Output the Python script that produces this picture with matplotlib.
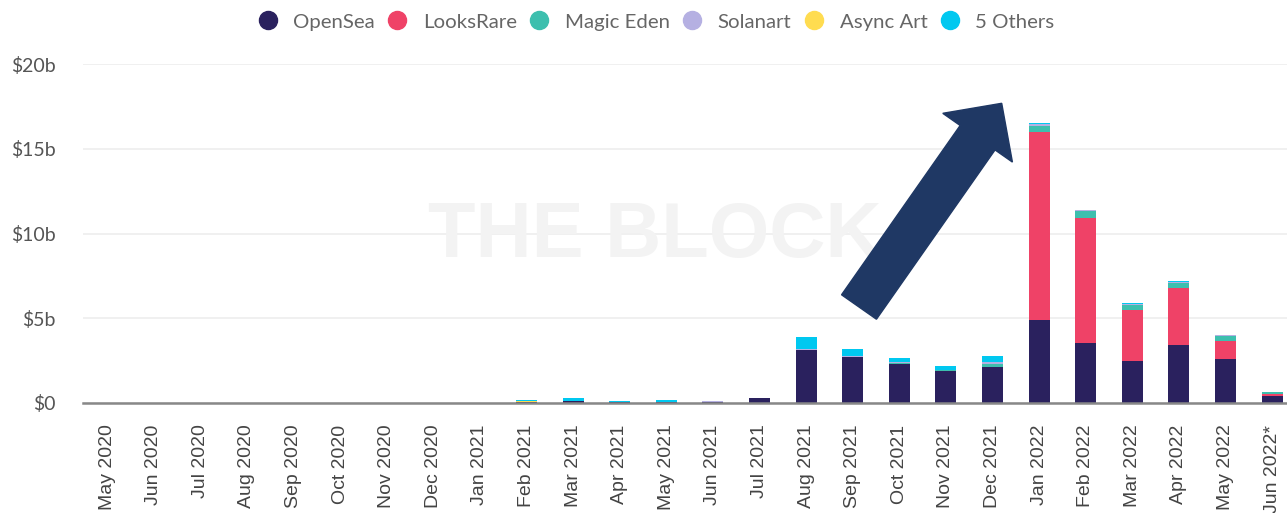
import numpy as np
import matplotlib
matplotlib.use("Agg")
import matplotlib.pyplot as plt
from matplotlib.patches import FancyArrow
from matplotlib.transforms import IdentityTransform
from matplotlib.lines import Line2D

# 月度交易量 (十亿美元)
months = ["May 2020", "Jun 2020", "Jul 2020", "Aug 2020", "Sep 2020", "Oct 2020",
          "Nov 2020", "Dec 2020", "Jan 2021", "Feb 2021", "Mar 2021", "Apr 2021",
          "May 2021", "Jun 2021", "Jul 2021", "Aug 2021", "Sep 2021", "Oct 2021",
          "Nov 2021", "Dec 2021", "Jan 2022", "Feb 2022", "Mar 2022", "Apr 2022",
          "May 2022", "Jun 2022*"]
opensea = [0.003, 0.003, 0.004, 0.005, 0.006, 0.006, 0.008, 0.01, 0.02, 0.08,
           0.12, 0.03, 0.08, 0.06, 0.28, 3.13, 2.73, 2.30, 1.89, 2.14,
           4.90, 3.56, 2.50, 3.44, 2.61, 0.41]
looksrare = [0, 0, 0, 0, 0, 0, 0, 0, 0, 0,
             0, 0, 0, 0, 0, 0, 0, 0, 0, 0,
             11.10, 7.34, 2.99, 3.36, 1.07, 0.12]
magic_eden = [0, 0, 0, 0, 0, 0, 0, 0, 0, 0,
              0, 0, 0, 0, 0, 0, 0, 0.06, 0.03, 0.18,
              0.36, 0.43, 0.29, 0.26, 0.29, 0.10]
solanart = [0, 0, 0, 0, 0, 0, 0, 0, 0, 0,
            0, 0, 0, 0.04, 0.01, 0.05, 0.03, 0.08, 0.05, 0.12,
            0.09, 0.03, 0.04, 0.10, 0.03, 0.01]
async_art = [0, 0, 0, 0, 0, 0, 0, 0, 0, 0.01,
             0.01, 0, 0, 0, 0, 0, 0, 0, 0, 0,
             0, 0, 0, 0, 0, 0]
others = [0, 0, 0, 0, 0, 0, 0, 0, 0, 0.09,
          0.17, 0.07, 0.10, 0, 0.01, 0.73, 0.41, 0.19, 0.23, 0.33,
          0.05, 0.02, 0.10, 0.02, 0.02, 0.01]

series = [("OpenSea", opensea, "#2a215e"),
          ("LooksRare", looksrare, "#ef4267"),
          ("Magic Eden", magic_eden, "#3dbfae"),
          ("Solanart", solanart, "#b5b0e2"),
          ("Async Art", async_art, "#ffdc50"),
          ("5 Others", others, "#00c8f0")]

W, H = 1287, 513
fig = plt.figure(figsize=(W / 100, H / 100), dpi=100)
ax = fig.add_axes([83 / W, (H - 403) / H, (W - 83) / W, 339 / H])

x = np.arange(len(months))
bottom = np.zeros(len(months))
for name, vals, col in series:
    vals = np.array(vals)
    ax.bar(x, vals, bottom=bottom, width=0.45, color=col, zorder=3, linewidth=0)
    bottom += vals

ax.set_xlim(-0.515, 25.32)
ax.set_ylim(0, 20)
ax.set_yticks([0, 5, 10, 15, 20])
ax.set_yticklabels(["$0", "$5b", "$10b", "$15b", "$20b"],
                   fontsize=14, color="#555555", family="Lato")
ax.set_xticks(x)
ax.set_xticklabels(months, rotation=90, fontsize=14, color="#444444",
                   family="Liberation Sans")
ax.tick_params(axis="both", length=0)
ax.tick_params(axis="y", pad=19.5)
ax.tick_params(axis="x", pad=15.5)
ax.grid(axis="y", color="#eeeeee", linewidth=1.2, zorder=0)
for s in ["top", "right", "left"]:
    ax.spines[s].set_visible(False)
ax.spines["bottom"].set_color("#888888")
ax.spines["bottom"].set_linewidth(1.8)
ax.spines["bottom"].set_zorder(4)

# 水印
fig.text(655 / W, 1 - 237 / H, "THE BLOCK", fontsize=56, fontweight="bold",
         color="#f3f3f3", ha="center", va="center", family="Liberation Sans",
         zorder=0)

# 图例
handles = [Line2D([], [], marker="o", linestyle="", markersize=13,
                  markerfacecolor=c, markeredgecolor=c) for _, _, c in series]
fig.legend(handles, [n for n, _, _ in series], loc="center",
           bbox_to_anchor=(656 / W, 1 - 22 / H), ncol=6, frameon=False,
           labelcolor="#666666", handletextpad=0.75,
           columnspacing=0.6, handlelength=1.0,
           prop={"family": "Lato", "size": 14.7})

# 箭头
arrow = FancyArrow(859, H - 307, 142.7, 203.7, width=42.6, head_width=85,
                   head_length=42, length_includes_head=True,
                   color="#1f3864", transform=IdentityTransform(), zorder=10)
fig.patches.append(arrow)

fig.savefig("out.png", dpi=100)
